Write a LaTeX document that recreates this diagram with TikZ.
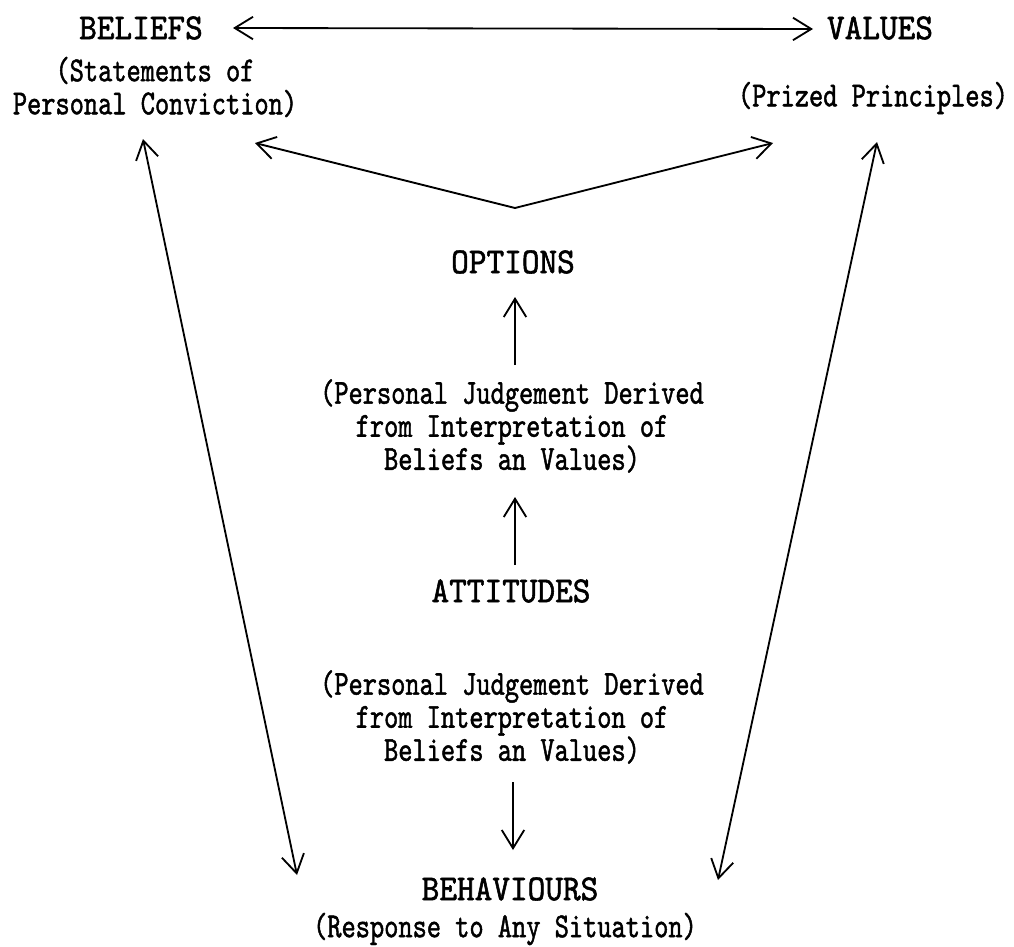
\documentclass[tikz,border=0pt]{standalone}
\usepackage{fontspec}
\newfontfamily\headfont{lmmono10-regular.otf}[FakeStretch=0.92,FakeBold=1.5]
\newfontfamily\bodyfont{lmmono10-regular.otf}[FakeStretch=0.77,FakeBold=1.3]
\usetikzlibrary{arrows.meta}
\tikzset{barb/.tip = {Straight Barb[length=13pt,width=16pt]}}
\tikzset{arr/.style = {-barb}}
\tikzset{darr/.style = {barb-barb}}
\tikzset{head/.style = {font={\headfont\fontsize{26}{26}\selectfont}, inner sep=0}}
\tikzset{sub/.style = {font={\bodyfont\fontsize{25}{23.5}\selectfont}, align=center, inner sep=0}}
\tikzset{
  every picture/.style={
    every path/.style={line width=1.3pt},
  }
}
\begin{document}
\begin{tikzpicture}[x=0.025cm, y=-0.025cm]
  \useasboundingbox (0,0) rectangle (1014,947);
  \node[head] (beliefs) at (141,28) {BELIEFS};
  \node[sub] (beliefsub) at (155,87) {(Statements of\\Personal Conviction)};
  \node[head] (values) at (880,28) {VALUES};
  \node[sub] (valuesub) at (873,98) {(Prized Principles)};
  \node[head] (options) at (513,262) {OPTIONS};
  \node[sub] (optsub) at (512,426) {(Personal Judgement Derived\\from Interpretation of\\Beliefs an Values)};
  \node[head] (attitudes) at (511,591) {ATTITUDES};
  \node[sub] (attsub) at (512,717) {(Personal Judgement Derived\\from Interpretation of\\Beliefs an Values)};
  \node[head] (behaviours) at (510,889) {BEHAVIOURS};
  \node[sub] (behsub) at (505,929) {(Response to Any Situation)};
  % fork below the two sources
  \coordinate (fork) at ([shift={(2,-54)}]options.center);
  \draw[darr] ([shift={(92,0)}]beliefs.center) -- ([shift={(-67,1)}]values.center);
  \draw[arr] (fork) -- ([shift={(100,56)}]beliefsub.center);
  \draw[arr] (fork) -- ([shift={(-100,45)}]valuesub.center);
  % long sides
  \draw[darr] ([shift={(-12,52)}]beliefsub.center) -- ([shift={(-213,-14)}]behaviours.center);
  \draw[darr] ([shift={(4,44)}]valuesub.center) -- ([shift={(208,-9)}]behaviours.center);
  % middle column
  \draw[arr] ([shift={(3,-61)}]optsub.center) -- ([shift={(2,35)}]options.center);
  \draw[arr] ([shift={(4,-26)}]attitudes.center) -- ([shift={(3,71)}]optsub.center);
  \draw[arr] ([shift={(1,65)}]attsub.center) -- ([shift={(3,-39)}]behaviours.center);
\end{tikzpicture}
\end{document}
